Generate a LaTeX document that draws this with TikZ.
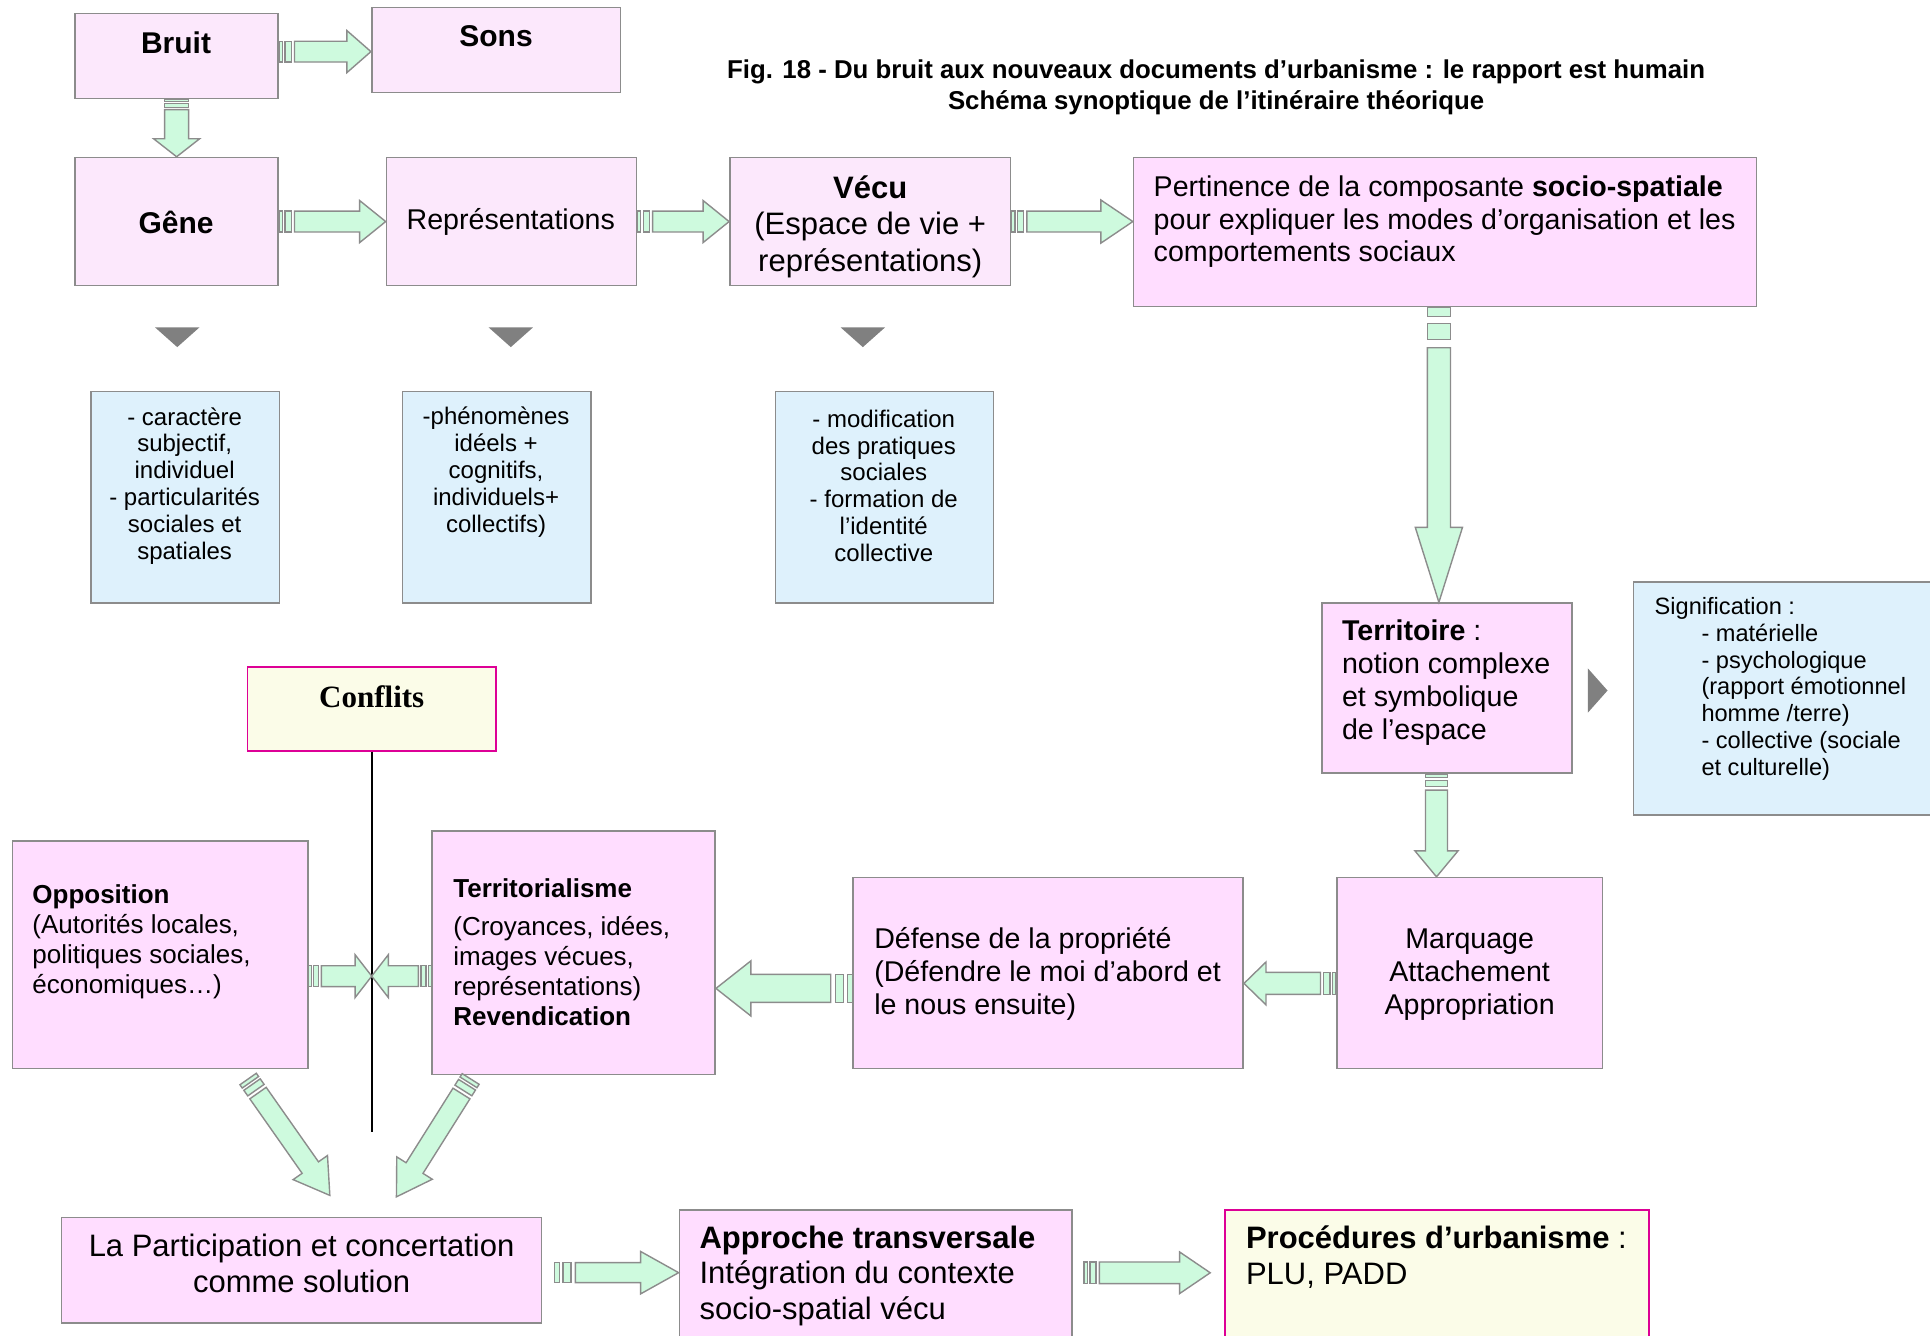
\documentclass[tikz,border=0pt]{standalone}
\usepackage{fontspec}
\setmainfont{Liberation Sans}
\newfontfamily\timesfont{Liberation Serif}
\usetikzlibrary{calc}

\definecolor{pinkA}{RGB}{252,232,252}
\definecolor{pinkB}{RGB}{255,221,255}
\definecolor{skyA}{RGB}{222,241,252}
\definecolor{mint}{RGB}{206,250,222}
\definecolor{edge}{RGB}{140,140,140}
\definecolor{cream}{RGB}{251,252,232}
\definecolor{magentaB}{RGB}{221,0,150}
\definecolor{markgray}{RGB}{128,128,128}

\newcommand{\dpx}{0.6155pt}
% striped block arrow: from, to, shaft half width, head half width, head length, stripe
\newcommand{\sarrow}[6]{%
  \path let \p1=(#1), \p2=(#2) in \pgfextra{%
    \pgfmathsetmacro{\sang}{atan2(\y2-\y1,\x2-\x1)}%
    \pgfmathsetmacro{\slen}{veclen(\x2-\x1,\y2-\y1)}%
    \xdef\sang{\sang}\xdef\slen{\slen}};
  \begin{scope}[shift={(#1)}, rotate=\sang]
    \draw[stripe] (0pt,-#3) rectangle (#6,#3);
    \draw[stripe] ({1.7*#6},-#3) rectangle ({3.4*#6},#3);
    \draw[stripe] ({4.3*#6},-#3) -- ({\slen pt-#5},-#3) -- ({\slen pt-#5},-#4)
      -- (\slen pt,0pt) -- ({\slen pt-#5},#4) -- ({\slen pt-#5},#3) -- ({4.3*#6},#3) -- cycle;
  \end{scope}}

\begin{document}
\begin{tikzpicture}[
        x=0.6155pt, y=-0.6155pt,
        box/.style={draw=edge, line width=0.8pt, inner sep=0pt},
        pinkbox/.style={box, fill=pinkA},
        rosebox/.style={box, fill=pinkB},
        notebox/.style={box, fill=skyA},
        keybox/.style={draw=magentaB, line width=0.9pt, fill=cream, inner sep=0pt},
        stripe/.style={draw=edge, fill=mint, line width=0.7pt, line join=miter},
        hd/.style={inner sep=0pt, font=\fontsize{15}{18}\selectfont\bfseries},
        ttl/.style={inner sep=0pt, font=\fontsize{12.9}{15.4}\selectfont\bfseries},
        txt/.style={inner sep=0pt, yshift=-1.6pt, font=\fontsize{14.3}{16.4}\selectfont},
        txtL/.style={inner sep=0pt, font=\fontsize{15.5}{17.9}\selectfont},
        txtM/.style={inner sep=0pt, yshift=-1pt, font=\fontsize{13}{15}\selectfont},
        txtS/.style={inner sep=0pt, yshift=-1.3pt, font=\fontsize{12}{13.4}\selectfont}
      ]
      \fill[white] (0,0) rectangle (1568,1085);
      \useasboundingbox (0,0) rectangle (1568,1085);

      % boxes
      \node[pinkbox, minimum width=165*\dpx, minimum height=69*\dpx] (bruit) at (143.5,45.5) {};
      \node[pinkbox, minimum width=202*\dpx, minimum height=69*\dpx] (sons) at (403,40.5) {};
      \node[pinkbox, minimum width=165*\dpx, minimum height=104*\dpx] (gene) at (143.5,180) {};
      \node[pinkbox, minimum width=203*\dpx, minimum height=104*\dpx] (repr) at (415.5,180) {};
      \node[pinkbox, minimum width=228*\dpx, minimum height=104*\dpx] (vecu) at (707,180) {};
      \node[rosebox, minimum width=506*\dpx, minimum height=121*\dpx] (pert) at (1174,188.5) {};
      \node[notebox, minimum width=153*\dpx, minimum height=172*\dpx] (car) at (150.5,404) {};
      \node[notebox, minimum width=153*\dpx, minimum height=172*\dpx] (phen) at (403.5,404) {};
      \node[notebox, minimum width=177*\dpx, minimum height=172*\dpx] (modif) at (718.5,404) {};
      \node[rosebox, minimum width=203*\dpx, minimum height=138*\dpx] (terr) at (1175.5,559) {};
      \node[notebox, minimum width=253*\dpx, minimum height=189*\dpx] (sig) at (1453.5,567.5) {};
      \node[rosebox, minimum width=216*\dpx, minimum height=155*\dpx] (marq) at (1194,790.5) {};
      \node[rosebox, minimum width=317*\dpx, minimum height=155*\dpx] (def) at (851.5,790.5) {};
      \node[rosebox, minimum width=230*\dpx, minimum height=198*\dpx] (terrism) at (466,774) {};
      \node[rosebox, minimum width=240*\dpx, minimum height=185*\dpx] (oppo) at (130,775.5) {};
      \node[keybox, minimum width=202*\dpx, minimum height=68*\dpx] (confl) at (302,576) {};
      \node[rosebox, minimum width=390*\dpx, minimum height=86*\dpx] (part) at (245,1032) {};
      \node[rosebox, minimum width=319*\dpx, minimum height=117*\dpx] (appr) at (711.5,1041.5) {};
      \node[keybox, minimum width=345*\dpx, minimum height=117*\dpx] (proc) at (1167.5,1041.5) {};

      % texts
      \node[hd] (bruitT) at (143,35) {Bruit};
      \node[hd] (sonsT) at (403,29) {Sons};
      \node[ttl, align=center] (title) at (988,71) {Fig. 18 - Du bruit aux nouveaux documents d’urbanisme : le rapport est humain\\Schéma synoptique de l’itinéraire théorique};
      \node[hd] (geneT) at (143,181) {Gêne};
      \node[txt] (reprT) at (415,178) {Représentations};
      \node[txtL, align=center, font=\fontsize{15.5}{18.2}\selectfont, yshift=-1.6pt] (vecuT) at (707,181.5) {\textbf{Vécu}\\(Espace de vie +\\représentations)};
      \node[txt, align=left, anchor=west] (pertT) at (937,177.5) {Pertinence de la composante \textbf{socio-spatiale}\\pour expliquer les modes d’organisation et les\\comportements sociaux};
      \node[txtS, align=center] (carT) at (150,392.5) {- caractère\\subjectif,\\individuel\\- particularités\\sociales et\\spatiales};
      \node[txtS, align=center] (phenT) at (403,381.5) {-phénomènes\\idéels +\\cognitifs,\\individuels+\\collectifs)};
      \node[txtS, align=center] (modifT) at (718,392.5) {- modification\\des pratiques\\sociales\\- formation de\\l’identité\\collective};
      \node[txt, align=left, anchor=west] (terrT) at (1090,552) {\textbf{Territoire} :\\notion complexe\\et symbolique\\de l’espace};
      \node[txtS, align=left, anchor=west, font=\fontsize{11.8}{13.4}\selectfont] (sigT) at (1344,557.5) {Signification :\\\hspace*{23.4pt}- matérielle\\\hspace*{23.4pt}- psychologique\\\hspace*{23.4pt}(rapport émotionnel\\\hspace*{23.4pt}homme /terre)\\\hspace*{23.4pt}- collective (sociale\\\hspace*{23.4pt}et culturelle)};
      \node[txt, align=center] (marqT) at (1194,789) {Marquage\\Attachement\\Appropriation};
      \node[txt, align=left, anchor=west] (defT) at (710,788.5) {Défense de la propriété\\(Défendre le moi d’abord et\\le nous ensuite)};
      \node[txtM, align=left, anchor=west] (terrismT) at (368,772) {\textbf{Territorialisme}\\[4.3pt](Croyances, idées,\\images vécues,\\représentations)\\\textbf{Revendication}};
      \node[txtM, align=left, anchor=west] (oppoT) at (26,763.5) {\textbf{Opposition}\\(Autorités locales,\\politiques sociales,\\économiques…)};
      \node[inner sep=0pt, font=\timesfont\fontsize{15.5}{18}\selectfont\bfseries] (conflT) at (302,566) {Conflits};
      \node[txtL, align=center] (partT) at (245,1026.5) {La Participation et concertation\\comme solution};
      \node[txtL, align=left, anchor=west, yshift=-1pt] (apprT) at (568,1035) {\textbf{Approche transversale}\\Intégration du contexte\\socio-spatial vécu};
      \node[txtL, align=left, anchor=west, yshift=-0.6pt] (procT) at (1012,1020.5) {\textbf{Procédures d’urbanisme} :\\PLU, PADD};

      % grey markers
      \foreach \x in {144,415,701}
        \fill[markgray] (\x-18,266) -- (\x+18,266) -- (\x,282) -- cycle;
      \fill[markgray] (1290,543) -- (1306,561) -- (1290,579) -- cycle;

      % conflict line
      \coordinate (lineEnd) at (302,920);
      \draw[black, line width=1pt] (confl.south) -- (lineEnd);

      % arrows
      \sarrow{[yshift=2.2pt]bruit.east}{[yshift=2.2pt]bruit.east -| sons.west}{5.2pt}{10.5pt}{12pt}{1.8pt}
      \sarrow{bruit.south}{gene.north}{6pt}{11.5pt}{9pt}{1.2pt}
      \sarrow{gene.east}{gene.east -| repr.west}{5.2pt}{10.5pt}{13pt}{1.8pt}
      \sarrow{repr.east}{repr.east -| vecu.west}{5.2pt}{10.5pt}{13pt}{1.8pt}
      \sarrow{vecu.east}{vecu.east -| pert.west}{5.2pt}{10.8pt}{16pt}{1.8pt}
      \sarrow{[xshift=-4pt]terr.north |- pert.south}{[xshift=-4pt]terr.north}{5.8pt}{11.8pt}{37.5pt}{4.7pt}
      \sarrow{[xshift=-5.2pt]terr.south}{[xshift=-5.2pt]terr.south |- marq.north}{5.5pt}{10.8pt}{13pt}{1.9pt}
      \sarrow{[yshift=-5.2pt]marq.west}{[yshift=-5.2pt]marq.west -| def.east}{5.5pt}{10.7pt}{11pt}{1.8pt}
      \sarrow{[yshift=-7.7pt]def.west}{[yshift=-7.7pt]def.west -| terrism.east}{7pt}{13.8pt}{17.5pt}{2.5pt}
      \sarrow{[yshift=-10.8pt]oppo.east}{[yshift=-10.8pt]oppo.east -| confl.south}{5.2pt}{10.7pt}{8.3pt}{1.5pt}
      \sarrow{[yshift=-11.7pt]terrism.west}{[yshift=-11.7pt]terrism.west -| confl.south}{5.2pt}{10.7pt}{8.3pt}{1.5pt}
      \sarrow{[xshift=-30.2pt,yshift=-4.9pt]oppo.south east}{[xshift=14.2pt,yshift=10.5pt]part.north}{5pt}{10.5pt}{17pt}{2pt}
      \sarrow{[xshift=19.7pt,yshift=-1.8pt]terrism.south west}{[xshift=47.4pt,yshift=9.8pt]part.north}{5pt}{10.5pt}{17pt}{2pt}
      \sarrow{[xshift=6.2pt,yshift=-1.2pt]part.east}{[yshift=-1.2pt]part.east -| appr.west}{5pt}{10.6pt}{19pt}{2.4pt}
      \sarrow{[xshift=5.5pt,yshift=4.6pt]appr.east}{[xshift=-6.8pt,yshift=4.6pt]appr.east -| proc.west}{5.4pt}{10.4pt}{15.3pt}{1.8pt}
    \end{tikzpicture}
\end{document}
